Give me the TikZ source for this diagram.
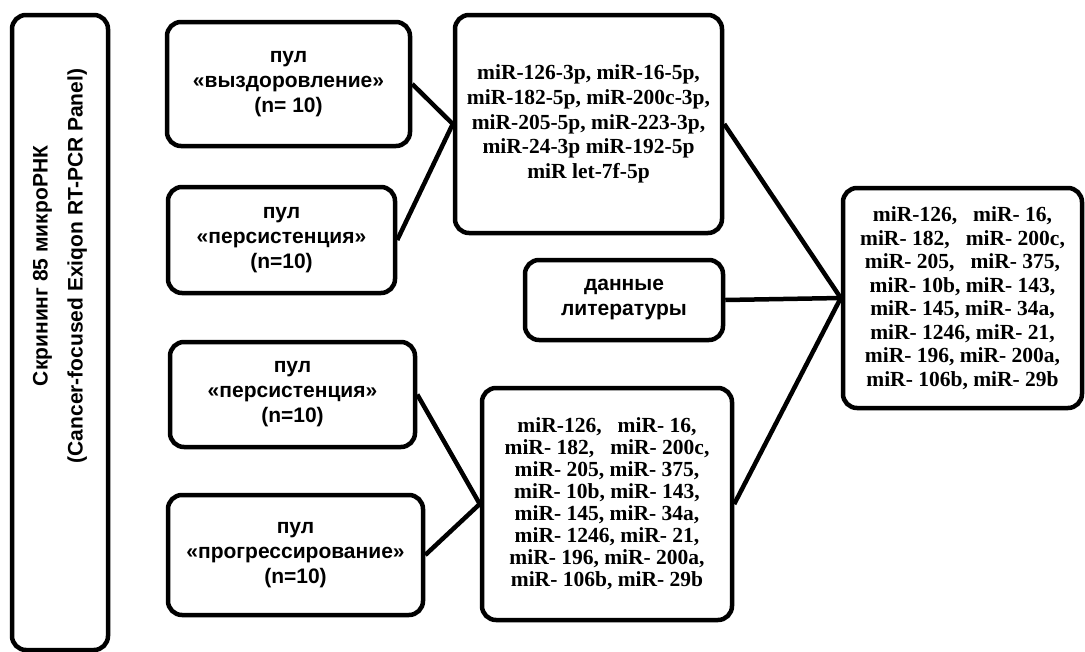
\documentclass[tikz,border=0pt]{standalone}
\usepackage{fontspec}
\setmainfont{Liberation Serif}
\setsansfont{Liberation Sans}
\usetikzlibrary{positioning}

\begin{document}
\begin{tikzpicture}[x=1pt, y=-1pt,
  box/.style={draw=black, line width=4.5pt, rounded corners=14pt, align=center, inner sep=4pt},
  pool/.style={box, font=\sffamily\bfseries\fontsize{21}{25}\selectfont},
  mirs/.style={box, font=\rmfamily\bfseries\fontsize{21.5}{24.6}\selectfont},
  link/.style={line width=4.5pt}]
  \useasboundingbox (0,0) rectangle (1085,651);

  % screening panel
  \node[box, minimum width=96pt, minimum height=635pt] (screen) at (60,332.5) {};
  \node[rotate=90, align=center, font=\sffamily\bfseries\fontsize{21}{35}\selectfont] (screentitle) at (60,266)
    {Скрининг 85 микроРНК\\(Cancer-focused Exiqon RT-PCR Panel)};

  % pools
  \node[pool, minimum width=243pt, minimum height=124pt] (recovery) at (288.5,84)
    {пул\\«выздоровление»\\(n= 10)};
  \node[pool, minimum width=227pt, minimum height=106pt] (persistA) at (281.5,240)
    {пул\\«персистенция»\\(n=10)};
  \node[pool, minimum width=245pt, minimum height=105pt] (persistB) at (292.5,394.5)
    {пул\\«персистенция»\\(n=10)};
  \node[pool, minimum width=255pt, minimum height=120pt] (progress) at (295.5,555)
    {пул\\«прогрессирование»\\(n=10)};

  % miRNA lists
  \node[mirs, minimum width=267pt, minimum height=218pt] (mirsA) at (588.5,124)
    {miR-126-3p, miR-16-5p,\\miR-182-5p, miR-200c-3p,\\miR-205-5p, miR-223-3p,\\miR-24-3p miR-192-5p\\miR let-7f-5p};
  \node[pool, minimum width=198pt, minimum height=80pt] (literature) at (624,300)
    {данные\\литературы};
  \node[mirs, minimum width=250pt, minimum height=232pt, font=\rmfamily\bfseries\fontsize{21.5}{22}\selectfont] (mirsB) at (607,504)
    {miR-126,~~ miR- 16,\\miR- 182,~~ miR- 200c,\\miR- 205, miR- 375,\\miR- 10b, miR- 143,\\miR- 145, miR- 34a,\\miR- 1246, miR- 21,\\miR- 196, miR- 200a,\\miR- 106b, miR- 29b};
  \node[mirs, minimum width=239pt, minimum height=220pt, font=\rmfamily\bfseries\fontsize{21.5}{23.5}\selectfont] (final) at (962.5,298)
    {miR-126,~~ miR- 16,\\miR- 182,~~ miR- 200c,\\miR- 205,~~ miR- 375,\\miR- 10b, miR- 143,\\miR- 145, miR- 34a,\\miR- 1246, miR- 21,\\miR- 196, miR- 200a,\\miR- 106b, miR- 29b};

  % connectors
  \draw[link] (recovery.east) -- (mirsA.west);
  \draw[link] (persistA.east) -- (mirsA.west);
  \draw[link] (persistB.east) -- (mirsB.west);
  \draw[link] (progress.east) -- (mirsB.west);
  \draw[link] (mirsA.east) -- (final.west);
  \draw[link] (literature.east) -- (final.west);
  \draw[link] (mirsB.east) -- (final.west);
\end{tikzpicture}
\end{document}
